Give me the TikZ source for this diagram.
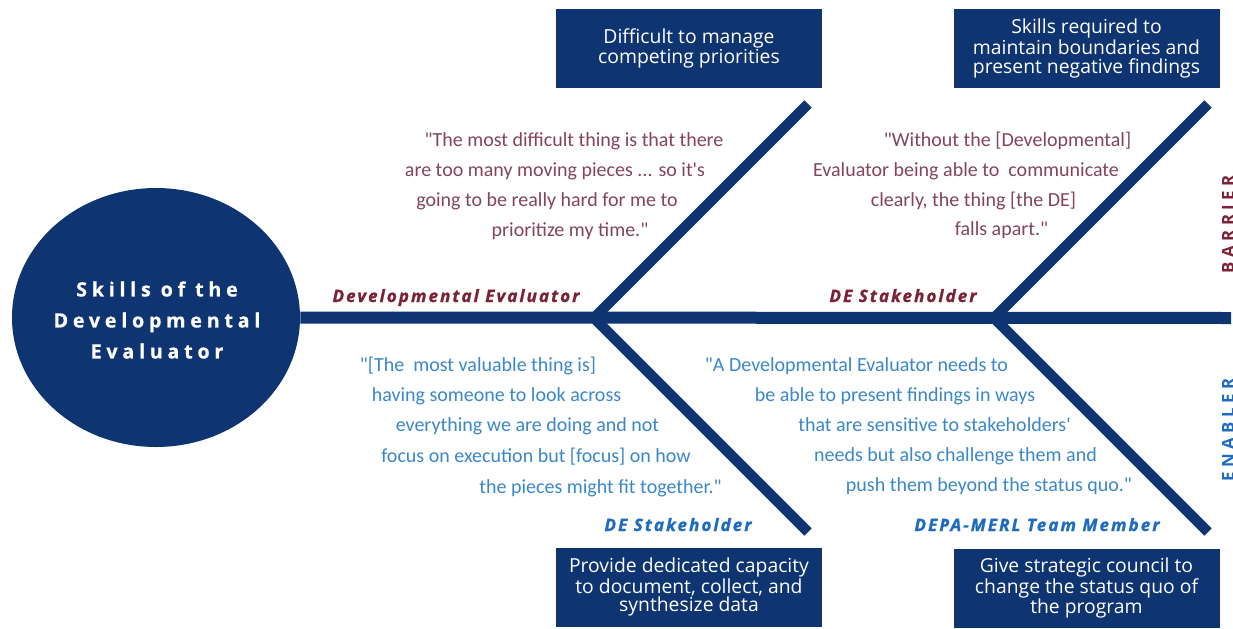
\documentclass[tikz,border=0pt]{standalone}
\usepackage{fontspec}
\setmainfont{Open Sans}
\newfontfamily\quotefont{Carlito}
\newfontfamily\titlefont[LetterSpace=24, BoldFeatures={FakeBold=0.6}]{Open Sans}
\newfontfamily\labelfont[LetterSpace=12, BoldItalicFeatures={FakeBold=1.2}]{Open Sans}
\newfontfamily\sidefont[LetterSpace=27]{Open Sans}
\usetikzlibrary{shapes.geometric}
\definecolor{navy}{HTML}{0E3472}
\definecolor{maroonq}{HTML}{84455C}
\definecolor{maroonl}{HTML}{7A2238}
\definecolor{blueq}{HTML}{3A87CC}
\definecolor{bluel}{HTML}{1F6CBF}
\tikzset{
  spine/.style={draw=navy, line width=9pt},
  bone/.style={draw=navy, line width=7.9pt},
  box/.style={rectangle, fill=navy, text=white, minimum width=199.5pt, minimum height=59.25pt,
    align=center, inner sep=2pt, font=\fontsize{14.5}{14}\selectfont},
  headnode/.style={ellipse, fill=navy, minimum width=216pt, minimum height=194.25pt, inner sep=0pt},
  headtext/.style={text=white, inner sep=0pt, align=center, font=\titlefont\bfseries\fontsize{14.8}{23.25}\selectfont},
  qtop/.style={anchor=base, inner sep=0pt, text=maroonq, font=\quotefont\fontsize{15}{18}\selectfont},
  qbot/.style={anchor=base, inner sep=0pt, text=blueq, font=\quotefont\fontsize{15}{18}\selectfont},
  labtop/.style={anchor=base, inner sep=0pt, text=maroonl, font=\labelfont\bfseries\itshape\fontsize{12.8}{14}\selectfont},
  labbot/.style={anchor=base, inner sep=0pt, text=bluel, font=\labelfont\bfseries\itshape\fontsize{12.8}{14}\selectfont},
  sidelab/.style={rotate=90, anchor=base, inner sep=0pt, font=\sidefont\bfseries\fontsize{12.6}{14}\selectfont}
}
\begin{document}
\begin{tikzpicture}[x=0.75pt, y=-0.75pt]
\useasboundingbox (0,0) rectangle (1233,629);
\clip (0,0) rectangle (1233,629);
\fill[white] (0,0) rectangle (1233,629);

% head
\node[headnode] (head) at (156,317.5) {};
\node[headtext] (headlabel) at (157,320) {Skills of the\\Developmental\\Evaluator};

% coordinates of the skeleton
\coordinate (spineend) at (1231,318);
\coordinate (j1) at (594,318);
\coordinate (j2) at (994,318);
\coordinate (u1) at (808,104);
\coordinate (d1) at (808,532);
\coordinate (u2) at (1208,104);
\coordinate (d2) at (1208,532);

\draw[spine] (head.east) -- (spineend);
\draw[bone] (j1) -- (u1);
\draw[bone] (j1) -- (d1);
\draw[bone] (j2) -- (u2);
\draw[bone] (j2) -- (d2);

% boxes
\node[box] (b1) at (689,48.5) {Difficult to manage\\competing priorities};
\node[box] (b2) at (1086.5,48.5) {Skills required to\\maintain boundaries and\\present negative findings};
\node[box] (b3) at (689,587) {Provide dedicated capacity\\to document, collect, and\\synthesize data};
\node[box] (b4) at (1086.5,588) {Give strategic council to\\change the status quo of\\the program};

% labels
\node[labtop] (l1) at (456,302) {Developmental Evaluator};
\node[labtop] (l2) at (903,302) {DE Stakeholder};
\node[labbot] (l3) at (678,531) {DE Stakeholder};
\node[labbot] (l4) at (1037,531) {DEPA-MERL Team Member};

% quote top left
\node[qtop] (qa1) at (574,146) {"The most difficult thing is that there};
\node[qtop] (qa2) at (555,176) {are too many moving pieces ... so it\textquotesingle s};
\node[qtop] (qa3) at (547,206) {going to be really hard for me to};
\node[qtop] (qa4) at (570,236) {prioritize my time."};

% quote top right
\node[qtop] (qb1) at (1007.5,146) {"Without the [Developmental]};
\node[qtop] (qb2) at (966,176) {Evaluator being able to\ \ communicate};
\node[qtop] (qb3) at (973.5,206) {clearly, the thing [the DE]};
\node[qtop] (qb4) at (1001.5,235) {falls apart."};

% quote bottom left
\node[qbot] (qc1) at (478,371) {"[The\ \ most valuable thing is]};
\node[qbot] (qc2) at (496.5,401) {having someone to look across};
\node[qbot] (qc3) at (527.5,431) {everything we are doing and not};
\node[qbot] (qc4) at (536,462) {focus on execution but [focus] on how};
\node[qbot] (qc5) at (600.5,493) {the pieces might fit together."};

% quote bottom right
\node[qbot] (qd1) at (856.5,371) {"A Developmental Evaluator needs to};
\node[qbot] (qd2) at (895,401) {be able to present findings in ways};
\node[qbot] (qd3) at (934.5,431) {that are sensitive to stakeholders\textquotesingle};
\node[qbot] (qd4) at (955.5,461) {needs but also challenge them and};
\node[qbot] (qd5) at (989,491) {push them beyond the status quo."};

% side labels
\node[sidelab, text=maroonl] (barrier) at (1234,224) {BARRIER};
\node[sidelab, text=bluel] (enabler) at (1234,430) {ENABLER};
\end{tikzpicture}
\end{document}
